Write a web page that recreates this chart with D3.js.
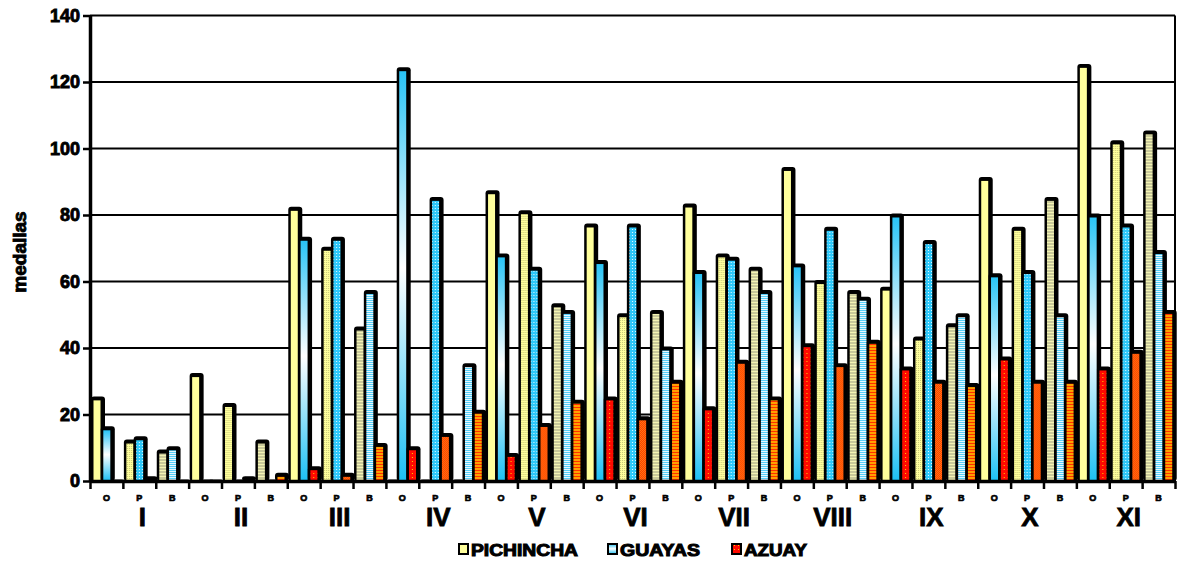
<!DOCTYPE html>
<html>
<head>
<meta charset="utf-8">
<script src="https://cdn.jsdelivr.net/npm/d3@7"></script>
<style>
body { margin: 0; background: #fff; }
svg { display: block; }
text { font-family: "Liberation Sans", Arial, sans-serif; font-weight: bold; fill: #000; }
</style>
</head>
<body>
<script>
// medal table: 11 groups x (oro, plata, bronce)
var groups = ["I", "II", "III", "IV", "V", "VI", "VII", "VIII", "IX", "X", "XI"];
var medals = ["O", "P", "B"];
var seriesNames = ["PICHINCHA", "GUAYAS", "AZUAY"];

var pichincha = [25, 12, 9,   32, 23, 12,  82, 70, 46,  0, 0, 0,     87, 81, 53,
                 77, 50, 51,  83, 68, 64,  94, 60, 57,  58, 43, 47,  91, 76, 85,  125, 102, 105];
var guayas    = [16, 13, 10,  0, 0, 0,     73, 73, 57,  124, 85, 35, 68, 64, 51,
                 66, 77, 40,  63, 67, 57,  65, 76, 55,  80, 72, 50,  62, 63, 50,  80, 77, 69];
var azuay     = [0, 1, 0,     0, 1, 2,     4, 2, 11,    10, 14, 21,  8, 17, 24,
                 25, 19, 30,  22, 36, 25,  41, 35, 42,  34, 30, 29,  37, 30, 30,  34, 39, 51];

var yTicks = [0, 20, 40, 60, 80, 100, 120, 140];

var width = 1179, height = 562;
var plotLeft = 90, plotRight = 1175, plotTop = 15.5, plotBottom = 481;

var svg = d3.select("body").append("svg")
	.attr("width", width)
	.attr("height", height);

// fills (patterns imitate the old excel textures)
var defs = svg.append("defs");

var grad = defs.append("linearGradient").attr("id", "gO")
	.attr("x1", 0).attr("y1", 0).attr("x2", 0).attr("y2", 1);
grad.append("stop").attr("offset", "0%").attr("stop-color", "#29c4f6");
grad.append("stop").attr("offset", "48%").attr("stop-color", "#ffffff");
grad.append("stop").attr("offset", "100%").attr("stop-color", "#1cc0f4");

function pattern(id, w, h, bg, marks) {
	var p = defs.append("pattern").attr("id", id)
		.attr("patternUnits", "userSpaceOnUse")
		.attr("width", w).attr("height", h);
	p.append("rect").attr("width", w).attr("height", h).attr("fill", bg);
	marks.forEach(function(m) {
		p.append("rect").attr("x", m[0]).attr("y", m[1]).attr("width", m[2]).attr("height", m[3]).attr("fill", m[4]);
	});
}
pattern("yP", 2, 2, "#ffff9c", [[0, 0, 1, 1, "#c8c878"]]);
pattern("yB", 3, 3, "#c9c99a", [[0, 2, 3, 1, "#f4f4b4"]]);
pattern("bP", 3, 3, "#2ec8fa", [[1, 1, 1, 1, "#e8fbff"]]);
pattern("bB", 2, 2, "#58cff8", [[0, 1, 2, 1, "#e6f8ff"]]);
pattern("rO", 4, 4, "#ff0a00", [[2, 1, 1, 1, "#ffd000"]]);
pattern("rP", 2, 2, "#ff3a00", [[0, 0, 1, 1, "#ff7a10"], [1, 1, 1, 1, "#ff7a10"]]);
pattern("rB", 3, 3, "#ffa000", [[0, 2, 3, 1, "#ff3000"]]);

var fills = {
	PICHINCHA: { O: "#ffff9c", P: "url(#yP)", B: "url(#yB)" },
	GUAYAS:    { O: "url(#gO)", P: "url(#bP)", B: "url(#bB)" },
	AZUAY:     { O: "url(#rO)", P: "url(#rP)", B: "url(#rB)" }
};

var slots = [];
groups.forEach(function(g, gi) {
	medals.forEach(function(m, mi) {
		var i = gi * 3 + mi;
		slots.push({ group: g, medal: m, i: i,
			values: [pichincha[i], guayas[i], azuay[i]] });
	});
});

var x = d3.scaleBand().domain(d3.range(slots.length)).range([plotLeft, plotRight]);
var xEdge = d3.scaleLinear().domain([0, slots.length]).range([plotLeft, plotRight]);
var xs = d3.scaleBand().domain(seriesNames).range([3.5, 32.9]);
var y = d3.scaleLinear().domain([0, 140]).range([plotBottom, plotTop]);
var barW = 7;

// grid
svg.append("g").selectAll("line")
	.data(yTicks.filter(function(d) { return d > 0; }))
	.enter().append("line")
	.attr("x1", plotLeft).attr("x2", plotRight)
	.attr("y1", function(d) { return y(d); })
	.attr("y2", function(d) { return y(d); })
	.attr("stroke", "#000").attr("stroke-width", 2);

svg.append("line")
	.attr("x1", plotRight).attr("x2", plotRight).attr("y1", plotTop).attr("y2", plotBottom)
	.attr("stroke", "#000").attr("stroke-width", 2);

// bars: black body with depth, coloured face inset
var slot = svg.append("g").selectAll(".slot")
	.data(slots)
	.enter().append("g")
	.attr("class", "slot")
	.attr("transform", function(d) { return "translate(" + x(d.i) + ",0)"; });

var bar = slot.selectAll(".bar")
	.data(function(d) {
		return seriesNames.map(function(s, k) { return { series: s, medal: d.medal, value: d.values[k] }; });
	})
	.enter().append("g")
	.attr("class", "bar");

bar.append("rect")
	.attr("x", function(d) { return xs(d.series) - 2.5; })
	.attr("y", function(d) { return y(d.value) - 1.5; })
	.attr("width", barW + 7)
	.attr("height", function(d) { return plotBottom - y(d.value) + 1.5; })
	.attr("rx", 3)
	.attr("fill", "#000");

bar.append("rect")
	.attr("x", function(d) { return xs(d.series); })
	.attr("y", function(d) { return Math.min(y(d.value) + 2.5, plotBottom); })
	.attr("width", barW)
	.attr("height", function(d) { return Math.max(plotBottom - y(d.value) - 2.5, 0); })
	.attr("fill", function(d) { return fills[d.series][d.medal]; });

// axes
var yAxis = svg.append("g")
	.attr("transform", "translate(" + plotLeft + ",0)")
	.call(d3.axisLeft(y).tickValues(yTicks).tickSize(7).tickSizeOuter(0).tickPadding(3));
yAxis.select(".domain").attr("stroke-width", 3.5);
yAxis.selectAll(".tick line").attr("stroke-width", 2.5);
yAxis.selectAll(".tick text")
	.attr("font-size", 18).attr("font-family", "Liberation Sans, Arial, sans-serif")
	.attr("font-weight", "bold").attr("stroke", "#000").attr("stroke-width", 0.9);

var xAxis = svg.append("g")
	.attr("transform", "translate(0," + plotBottom + ")")
	.call(d3.axisBottom(xEdge).tickValues(d3.range(slots.length + 1)).tickFormat("").tickSize(8).tickSizeOuter(0));
xAxis.select(".domain").attr("stroke-width", 3.5);
xAxis.selectAll(".tick line").attr("stroke-width", 2.5);

svg.append("g").selectAll("text")
	.data(slots)
	.enter().append("text")
	.attr("x", function(d) { return x(d.i) + x.bandwidth() / 2; })
	.attr("y", 501)
	.attr("text-anchor", "middle")
	.attr("font-size", 9)
	.attr("stroke", "#000").attr("stroke-width", 0.7)
	.text(function(d) { return d.medal; });

svg.append("g").selectAll("text")
	.data(groups)
	.enter().append("text")
	.attr("x", function(d, gi) { return x(gi * 3 + 1) + x.bandwidth() / 2 + 3; })
	.attr("y", 526)
	.attr("text-anchor", "middle")
	.attr("font-size", 26)
	.attr("stroke", "#000").attr("stroke-width", 0.8)
	.text(function(d) { return d; });

svg.append("text")
	.attr("transform", "translate(19,252) rotate(-90)")
	.attr("text-anchor", "middle")
	.attr("dominant-baseline", "central")
	.attr("font-size", 19)
	.attr("stroke", "#000").attr("stroke-width", 0.9)
	.text("medallas");

// legend
var legendX = [459, 608, 732];
var legendLen = [107, 80, 63];
var legendFill = ["#ffff9c", "url(#gO)", "url(#rO)"];

var legend = svg.append("g").selectAll("g")
	.data(seriesNames)
	.enter().append("g")
	.attr("transform", function(d, k) { return "translate(" + legendX[k] + ",0)"; });

legend.append("rect")
	.attr("x", 0).attr("y", 544)
	.attr("width", 9).attr("height", 10)
	.attr("fill", function(d, k) { return legendFill[k]; })
	.attr("stroke", "#000").attr("stroke-width", 2);

legend.append("text")
	.attr("x", 12).attr("y", 556)
	.attr("font-size", 16)
	.attr("stroke", "#000").attr("stroke-width", 1)
	.attr("textLength", function(d, k) { return legendLen[k]; })
	.attr("lengthAdjust", "spacingAndGlyphs")
	.text(function(d) { return d; });
</script>
</body>
</html>
